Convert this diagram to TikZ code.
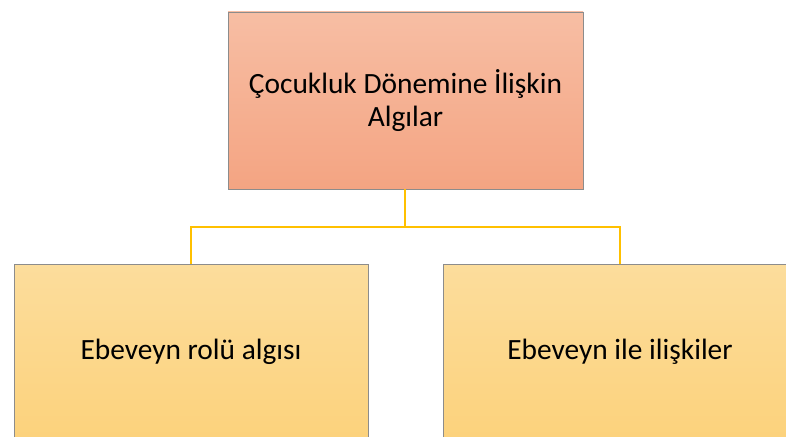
\documentclass[tikz,border=0pt]{standalone}
\usepackage{fontspec}
\setmainfont{Carlito}
\begin{document}
\begin{tikzpicture}[x=1pt,y=-1pt,
  boxbase/.style={draw=black!45, line width=0.8pt, rectangle, inner sep=0pt, align=center, font=\fontsize{29.4}{33.5}\selectfont},
  topbox/.style={boxbase, top color={rgb,255:red,247;green,190;blue,164}, bottom color={rgb,255:red,244;green,164;blue,130}},
  childbox/.style={boxbase, top color={rgb,255:red,252;green,221;blue,156}, bottom color={rgb,255:red,252;green,210;blue,124}},
  link/.style={draw={rgb,255:red,255;green,192;blue,0}, line width=1.8pt}
]
\useasboundingbox (0,0) rectangle (786,436);
\clip (0,0) rectangle (786,436);
\node[topbox, minimum width=355pt, minimum height=177pt] (top) at (405.5,100.5) {Çocukluk Dönemine İlişkin\\Algılar};
\node[childbox, minimum width=354pt, minimum height=176pt] (left) at (191,352) {Ebeveyn rolü algısı};
\node[childbox, minimum width=354pt, minimum height=176pt] (right) at (620,352) {Ebeveyn ile ilişkiler};
\coordinate (mid) at (405,227);
\draw[link] (top.south -| mid) -- (mid);
\draw[link] (left.north) |- (mid) -| (right.north);
\end{tikzpicture}
\end{document}
